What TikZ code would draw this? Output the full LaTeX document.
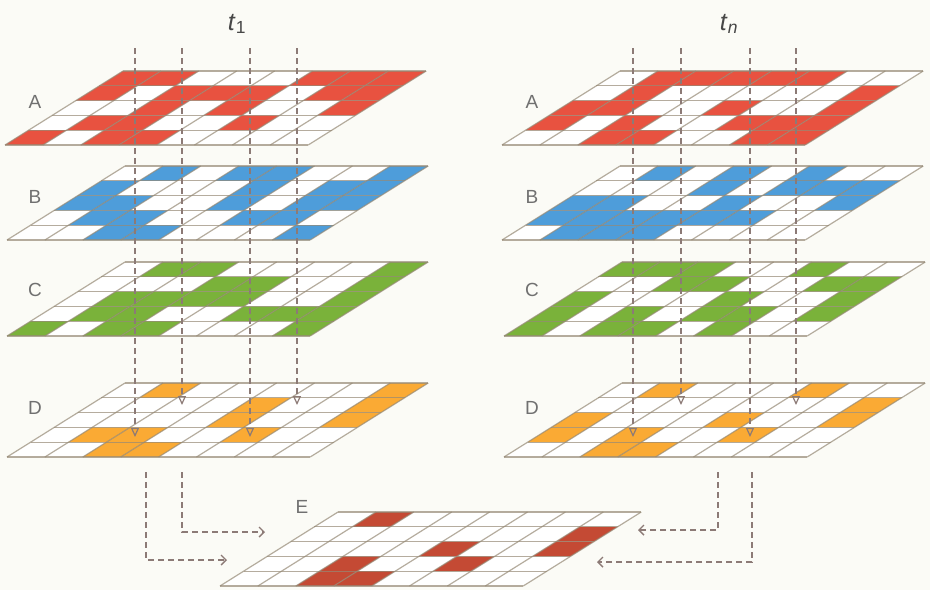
\documentclass[tikz,border=0pt]{standalone}
\usepackage{fontspec}
\setsansfont{Liberation Sans}
\usetikzlibrary{arrows.meta}

\definecolor{bgcol}{RGB}{251,251,246}
\definecolor{gridcol}{RGB}{150,138,118}
\definecolor{dashcol}{RGB}{140,122,118}
\definecolor{labcol}{RGB}{112,112,112}
\definecolor{cellA}{RGB}{232,82,64}
\definecolor{cellB}{RGB}{78,157,218}
\definecolor{cellC}{RGB}{122,178,58}
\definecolor{cellD}{RGB}{250,170,52}
\definecolor{cellE}{RGB}{196,74,52}

% cell width, row height, shift per row
\def\cw{37.9}
\def\rh{14.8}
\def\sk{23.6}

% #1,#2 back-left corner, #3 colour, #4 row/{filled columns}
\newcommand{\gridlayer}[4]{%
    \begin{scope}[shift={(#1,#2)}]
        \fill[white] (0,0) -- (8*\cw,0) -- (8*\cw-5*\sk,5*\rh) -- (-5*\sk,5*\rh) -- cycle;
        \foreach \r/\cols in {#4} {
            \foreach \c in \cols {
                \fill[#3] (\c*\cw-\r*\sk,\r*\rh) -- ++(\cw,0) -- ++(-\sk,\rh) -- ++(-\cw,0) -- cycle;
            }
        }
        \foreach \r in {0,...,5}
            \draw[gridline] (-\r*\sk,\r*\rh) -- ++(8*\cw,0);
        \foreach \c in {0,...,8}
            \draw[gridline] (\c*\cw,0) -- ++(-5*\sk,5*\rh);
    \end{scope}%
}

\begin{document}
\begin{tikzpicture}[
        x=1pt, y=-1pt,
        gridline/.style={draw=gridcol, draw opacity=0.7, line width=1.2pt},
        layerlabel/.style={font=\sffamily\fontsize{19}{22}\selectfont, text=labcol},
        timelabel/.style={font=\sffamily\fontsize{25}{28}\selectfont, text=black!72},
        dashline/.style={draw=dashcol, line width=1.4pt, dash pattern=on 6pt off 4pt},
        droparrow/.style={dashline, -{Triangle[open, length=9pt, width=8pt, line width=1.2pt]}},
        mergearrow/.style={dashline, -{Straight Barb[length=5pt, width=10pt, line width=1.4pt]}}
    ]

    \fill[bgcol] (0,0) rectangle (930,590);
    \useasboundingbox (0,0) rectangle (930,590);

    % =========================
    % Time t_1
    % =========================
    \node[timelabel] (t1) at (237,24) {\textit{t}\textsubscript{1}};

    \gridlayer{123}{71}{cellA}{0/{0,1,5,6,7},1/{0,2,3,4,6,7},2/{2,4,7},3/{1,2,5},4/{0,2,3}}
    \gridlayer{125}{166}{cellB}{0/{1,3,4,7},1/{0,4,6,7},2/{0,1,4,6,7},3/{1,2,5,6},4/{2,3,7}}
    \gridlayer{125}{262}{cellC}{0/{1,2,7},1/{3,4,7},2/{1,2,3,4,7},3/{1,2,5,6,7},4/{0,2,3,7}}
    \gridlayer{125}{383}{cellD}{0/{1,7},1/{4,7},2/{4,7},3/{1,2,5},4/{2,3}}

    \node[layerlabel] (lA) at (35,102) {A};
    \node[layerlabel] (lB) at (35,197) {B};
    \node[layerlabel] (lC) at (35,290) {C};
    \node[layerlabel] (lD) at (35,408) {D};

    \foreach \x/\e [count=\i] in {135/437,182/405,250/437,297/405} {
        \coordinate (lt\i) at (\x,48);
        \coordinate (lb\i) at (\x,\e);
        \draw[droparrow] (lt\i) -- (lb\i);
    }

    % =========================
    % Time t_n
    % =========================
    \node[timelabel] (tn) at (729,24) {\textit{t}\textsubscript{\textit{n}}};

    \gridlayer{620}{71}{cellA}{0/{1,2,3,4,5},1/{1,7},2/{0,1,4,7},3/{0,2,5,6,7},4/{2,3,6,7}}
    \gridlayer{620}{166}{cellB}{0/{1,3,5},1/{3,5,6,7},2/{0,1,4,7},3/{0,1,2,3,4,5},4/{1,2,3}}
    \gridlayer{622}{262}{cellC}{0/{0,1,2,5},1/{2,3,6,7},2/{0,4,7},3/{0,2,4,5,7},4/{0,2,3,5}}
    \gridlayer{622}{383}{cellD}{0/{1,5},1/{7},2/{0,4,7},3/{0,2,5},4/{2,3}}

    \node[layerlabel] (rA) at (532,102) {A};
    \node[layerlabel] (rB) at (532,197) {B};
    \node[layerlabel] (rC) at (532,290) {C};
    \node[layerlabel] (rD) at (532,408) {D};

    \foreach \x/\e [count=\i] in {633/437,681/405,750/437,796/405} {
        \coordinate (rt\i) at (\x,48);
        \coordinate (rb\i) at (\x,\e);
        \draw[droparrow] (rt\i) -- (rb\i);
    }

    % =========================
    % Result E
    % =========================
    \gridlayer{338}{512}{cellE}{0/{1},1/{7},2/{4,7},3/{2,5},4/{2,3}}
    \node[layerlabel] (lE) at (302,507) {E};

    \coordinate (ls1) at (146,472);
    \coordinate (le1) at (227,560);
    \coordinate (ls2) at (182,472);
    \coordinate (le2) at (265,532);
    \coordinate (rs1) at (718,472);
    \coordinate (re1) at (638,530);
    \coordinate (rs2) at (752,472);
    \coordinate (re2) at (597,562);

    \draw[mergearrow] (ls1) |- (le1);
    \draw[mergearrow] (ls2) |- (le2);
    \draw[mergearrow] (rs1) |- (re1);
    \draw[mergearrow] (rs2) |- (re2);

\end{tikzpicture}
\end{document}
